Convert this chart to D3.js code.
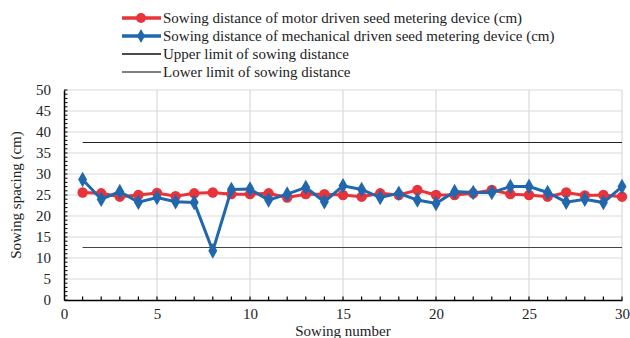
<!DOCTYPE html>
<html><head><meta charset="utf-8">
<script src="https://cdn.jsdelivr.net/npm/d3@7"></script>
</head><body style="margin:0">
<svg id="c" width="630" height="338" font-family="Liberation Serif"></svg>
<script>
const sowingNumbers = d3.range(1, 31);
const motorDriven = [25.6,25.4,24.6,25.0,25.5,24.7,25.4,25.6,25.2,25.2,25.4,24.4,25.2,25.2,25.0,24.6,25.4,25.0,26.2,25.0,25.0,25.4,26.2,25.2,25.0,24.6,25.6,24.9,25.0,24.6];
const mechanicalDriven = [28.7,24.0,25.8,23.3,24.4,23.4,23.2,11.7,26.3,26.4,23.8,25.2,26.8,23.4,27.2,26.3,24.4,25.4,23.8,23.0,25.8,25.6,25.6,27.0,27.0,25.6,23.3,24.0,23.2,27.0];
const upperLimit = 37.5;
const lowerLimit = 12.5;
const xTicks = [0,5,10,15,20,25,30];
const yTicks = [0,5,10,15,20,25,30,35,40,45,50];
const legendLabels = [
  "Sowing distance of motor driven seed metering device (cm)",
  "Sowing distance of mechanical driven seed metering device (cm)",
  "Upper limit of sowing distance",
  "Lower limit of sowing distance"
];

const FONT = "'Liberation Serif', 'Times New Roman', serif";
const serif = (sel, size) => sel.style("font-family", FONT, "important").style("font-size", size + "px", "important");
const svg = d3.select("#c");
const x = d3.scaleLinear().domain([0,30]).range([64,622]);
const y = d3.scaleLinear().domain([0,50]).range([300,90]);

// grid
svg.append("g").selectAll("line").data(yTicks.filter(d=>d>0)).join("line")
  .attr("x1",64).attr("x2",622).attr("y1",d=>y(d)).attr("y2",d=>y(d))
  .attr("stroke","#d9d9d9").attr("stroke-width",1.2);
svg.append("g").selectAll("line").data(xTicks.filter(d=>d>0)).join("line")
  .attr("x1",d=>x(d)).attr("x2",d=>x(d)).attr("y1",y(0)).attr("y2",y(50))
  .attr("stroke","#d9d9d9").attr("stroke-width",1.2);

// limits
svg.append("line").attr("x1",x(1)).attr("x2",x(30)).attr("y1",y(upperLimit)).attr("y2",y(upperLimit))
  .attr("stroke","#222").attr("stroke-width",1);
svg.append("line").attr("x1",x(1)).attr("x2",x(30)).attr("y1",y(lowerLimit)).attr("y2",y(lowerLimit))
  .attr("stroke","#444").attr("stroke-width",1);

// axes
const yAxis = svg.append("g").attr("transform","translate(64,0)")
  .call(d3.axisLeft(y).tickValues(yTicks).tickSize(0).tickPadding(13));
yAxis.attr("font-family", FONT);
yAxis.select(".domain").attr("stroke","#000").attr("stroke-width",1.5);
serif(yAxis.selectAll("text"), 15).attr("fill","#222");
svg.append("g").selectAll("line").data(d3.range(0,51)).join("line")
  .attr("x1",64).attr("x2",67.5).attr("y1",d=>y(d)).attr("y2",d=>y(d))
  .attr("stroke","#000").attr("stroke-width",1);

const xAxis = svg.append("g").attr("transform","translate(0,300)")
  .call(d3.axisBottom(x).tickValues(xTicks).tickSize(0).tickPadding(8));
xAxis.attr("font-family", FONT);
xAxis.select(".domain").attr("stroke","#000").attr("stroke-width",1.5);
serif(xAxis.selectAll("text"), 15).attr("fill","#222");
svg.append("g").selectAll("line").data(d3.range(1,31)).join("line")
  .attr("x1",d=>x(d)).attr("x2",d=>x(d)).attr("y1",300).attr("y2",296.5)
  .attr("stroke","#000").attr("stroke-width",1.2);

// axis titles
serif(svg.append("text").attr("x",343).attr("y",336).attr("text-anchor","middle"), 15)
  .attr("fill","#222").text("Sowing number");
serif(svg.append("text").attr("transform","translate(21,195) rotate(-90)").attr("text-anchor","middle"), 15)
  .attr("fill","#222").text("Sowing spacing (cm)");

// series
const red = "#e8333a", blue = "#2067ae";
const line = (arr)=>d3.line().x((d,i)=>x(sowingNumbers[i])).y(d=>y(d))(arr);
svg.append("path").attr("d",line(motorDriven)).attr("fill","none").attr("stroke",red).attr("stroke-width",3);
svg.append("g").selectAll("circle").data(motorDriven).join("circle")
  .attr("cx",(d,i)=>x(sowingNumbers[i])).attr("cy",d=>y(d)).attr("r",5.2).attr("fill",red);
svg.append("path").attr("d",line(mechanicalDriven)).attr("fill","none").attr("stroke",blue).attr("stroke-width",3);
const diamond = d3.symbol().type(d3.symbolDiamond).size(70);
svg.append("g").selectAll("path").data(mechanicalDriven).join("path")
  .attr("transform",(d,i)=>`translate(${x(sowingNumbers[i])},${y(d)})`)
  .attr("d",diamond).attr("fill",blue);

// legend
const legY = [18,36,54,72];
const lg = svg.append("g");
const styles = [
  {c:red,w:3.5,m:"circle"},{c:blue,w:3.5,m:"diamond"},{c:"#111",w:1.3},{c:"#555",w:1.3}
];
legendLabels.forEach((t,i)=>{
  const s = styles[i];
  lg.append("line").attr("x1",122).attr("x2",161).attr("y1",legY[i]).attr("y2",legY[i])
    .attr("stroke",s.c).attr("stroke-width",s.w);
  if(s.m==="circle") lg.append("circle").attr("cx",141).attr("cy",legY[i]).attr("r",5).attr("fill",s.c);
  if(s.m==="diamond") lg.append("path").attr("transform",`translate(141,${legY[i]})`)
    .attr("d",d3.symbol().type(d3.symbolDiamond).size(55)).attr("fill",s.c);
  serif(lg.append("text").attr("x",163).attr("y",legY[i]+5), 15)
    .attr("fill","#222").text(t);
});
</script>
</body></html>
